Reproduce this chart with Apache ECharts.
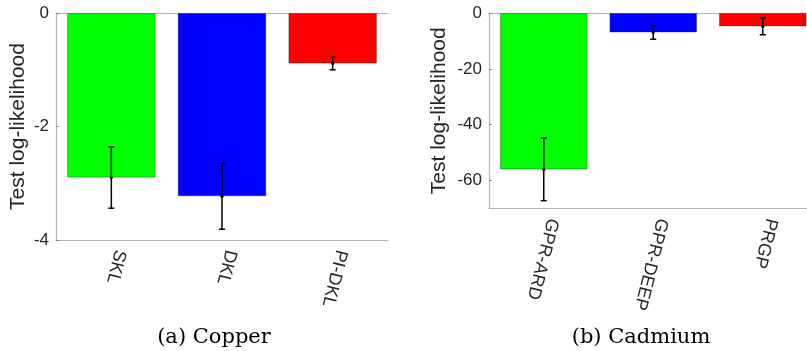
<!DOCTYPE html>
<html>
<head>
<meta charset="utf-8">
<script src="https://cdn.jsdelivr.net/npm/echarts@6/dist/echarts.min.js"></script>
<style>
    html, body {
        margin: 0;
        padding: 0;
        background: #fff;
    }

    #main {
        width: 807px;
        height: 351px;
    }
</style>
</head>
<body>
<div id="main"></div>
<script>
    // (a) Copper
    var copperCats = ['SKL', 'DKL', 'PI-DKL'];
    var copperMean = [-2.9, -3.23, -0.89];
    var copperErr = [0.54, 0.58, 0.11];
    var copperTicks = [0, -2, -4];

    // (b) Cadmium
    var cadmiumCats = ['GPR-ARD', 'GPR-DEEP', 'PRGP'];
    var cadmiumMean = [-56, -7.0, -4.8];
    var cadmiumErr = [11.2, 2.4, 3.0];
    var cadmiumTicks = [0, -20, -40, -60];

    var barColors = ['#00ff00', '#0000ff', '#ff0000'];

    var axisGray = '#b4b4b4';
    var textColor = '#262626';
    var sansFont = 'Liberation Sans';

    // 误差线
    var renderErr = function(params, api) {
        var x = api.value(0),
            y = api.value(1),
            e = api.value(2);
        var top = api.coord([x, y + e]);
        var bot = api.coord([x, y - e]);
        var mid = api.coord([x, y]);
        var w = 3;
        var style = {
            stroke: '#000',
            lineWidth: 1.5
        };
        return {
            type: 'group',
            children: [{
                type: 'line',
                shape: { x1: top[0], y1: top[1], x2: bot[0], y2: bot[1] },
                style: style
            }, {
                type: 'line',
                shape: { x1: top[0] - w, y1: top[1], x2: top[0] + w, y2: top[1] },
                style: style
            }, {
                type: 'line',
                shape: { x1: bot[0] - w, y1: bot[1], x2: bot[0] + w, y2: bot[1] },
                style: style
            }, {
                type: 'circle',
                shape: { cx: mid[0], cy: mid[1], r: 1.6 },
                style: { fill: '#000' }
            }]
        };
    };

    var barData = function(vals) {
        return vals.map(function(v, i) {
            return {
                value: v,
                itemStyle: { color: barColors[i] }
            };
        });
    };

    var errData = function(vals, errs) {
        return vals.map(function(v, i) {
            return [i, v, errs[i]];
        });
    };

    var bottomAxis = function(grid, cats) {
        return {
            type: 'category',
            gridIndex: grid,
            data: cats,
            position: 'bottom',
            axisLine: {
                onZero: false,
                lineStyle: { color: axisGray, width: 1.2 }
            },
            axisTick: {
                inside: true,
                alignWithLabel: true,
                length: 4,
                lineStyle: { color: '#888' }
            },
            axisLabel: {
                rotate: -104,
                margin: 8,
                verticalAlign: 'bottom',
                fontSize: 18,
                fontFamily: sansFont,
                color: textColor
            }
        };
    };

    var topAxis = function(grid, cats) {
        return {
            type: 'category',
            gridIndex: grid,
            data: cats,
            position: 'top',
            axisLine: {
                onZero: false,
                lineStyle: { color: axisGray, width: 1.2 }
            },
            axisTick: { show: false },
            axisLabel: { show: false }
        };
    };

    var leftAxis = function(grid, min, ticks, gap) {
        return {
            type: 'value',
            gridIndex: grid,
            min: min,
            max: 0,
            name: 'Test log-likelihood',
            nameLocation: 'middle',
            nameGap: gap,
            nameTextStyle: {
                fontSize: 21,
                fontFamily: sansFont,
                color: textColor
            },
            axisLine: {
                show: true,
                lineStyle: { color: axisGray, width: 1.2 }
            },
            axisTick: {
                show: true,
                inside: true,
                length: 3,
                customValues: ticks,
                lineStyle: { color: '#888' }
            },
            axisLabel: {
                customValues: ticks,
                margin: 7,
                fontSize: 17,
                fontFamily: sansFont,
                color: textColor
            },
            splitLine: { show: false }
        };
    };

    var myChart = echarts.init(document.getElementById('main'));
    var option = {
        animation: false,
        backgroundColor: '#fff',
        title: [{
            text: '(a) Copper',
            left: 214,
            top: 327,
            textAlign: 'center',
            padding: 0,
            textStyle: {
                fontFamily: 'DejaVu Serif',
                fontWeight: 'normal',
                fontSize: 21,
                color: '#000'
            }
        }, {
            text: '(b) Cadmium',
            left: 641,
            top: 327,
            textAlign: 'center',
            padding: 0,
            textStyle: {
                fontFamily: 'DejaVu Serif',
                fontWeight: 'normal',
                fontSize: 21,
                color: '#000'
            }
        }],
        grid: [{
            left: 56,
            top: 13,
            width: 332,
            height: 227,
            outerBoundsMode: 'none'
        }, {
            left: 489,
            top: 13,
            width: 328.5,
            height: 195.5,
            outerBoundsMode: 'none'
        }],
        xAxis: [
            bottomAxis(0, copperCats),
            topAxis(0, copperCats),
            bottomAxis(1, cadmiumCats),
            topAxis(1, cadmiumCats)
        ],
        yAxis: [
            leftAxis(0, -4, copperTicks, 27),
            leftAxis(1, -70, cadmiumTicks, 39)
        ],
        series: [{
            name: 'Copper',
            type: 'bar',
            xAxisIndex: 0,
            yAxisIndex: 0,
            barWidth: '80%',
            data: barData(copperMean),
            itemStyle: {
                borderColor: 'rgba(0,0,0,0.3)',
                borderWidth: 1
            }
        }, {
            name: 'Copper err',
            type: 'custom',
            xAxisIndex: 0,
            yAxisIndex: 0,
            z: 3,
            renderItem: renderErr,
            data: errData(copperMean, copperErr)
        }, {
            name: 'Cadmium',
            type: 'bar',
            xAxisIndex: 2,
            yAxisIndex: 1,
            barWidth: '80%',
            data: barData(cadmiumMean),
            itemStyle: {
                borderColor: 'rgba(0,0,0,0.3)',
                borderWidth: 1
            }
        }, {
            name: 'Cadmium err',
            type: 'custom',
            xAxisIndex: 2,
            yAxisIndex: 1,
            z: 3,
            renderItem: renderErr,
            data: errData(cadmiumMean, cadmiumErr)
        }]
    };
    myChart.setOption(option);
</script>
</body>
</html>
